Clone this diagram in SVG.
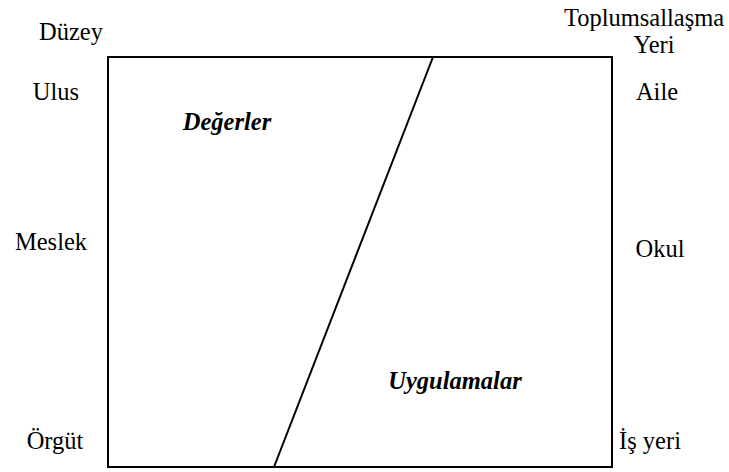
<svg xmlns="http://www.w3.org/2000/svg" width="729" height="472" viewBox="0 0 729 472">
<style>
text{font-family:"Liberation Serif","Times New Roman",serif;font-size:24.5px;fill:#000;text-anchor:middle}
.b{font-weight:bold;font-style:italic}
.ln{stroke:#000;stroke-width:2;fill:none}
</style>
<rect width="729" height="472" fill="#fff"/>
<g id="frame"><rect class="ln" x="108" y="57" width="504" height="410"/></g>
<g id="connectors"><line class="ln" x1="433" y1="57" x2="274" y2="467"/></g>
<g id="levels">
<text x="71" y="40">Düzey</text>
<text x="56" y="100">Ulus</text>
<text x="51" y="250">Meslek</text>
<text x="55" y="449">Örgüt</text>
</g>
<g id="places">
<text x="644" y="26">Toplumsallaşma</text>
<text x="654" y="53">Yeri</text>
<text x="657" y="100">Aile</text>
<text x="660" y="257">Okul</text>
<text x="650" y="449">İş yeri</text>
</g>
<g id="values"><text class="b" x="227" y="130">Değerler</text></g>
<g id="practices"><text class="b" x="455" y="389">Uygulamalar</text></g>
</svg>
